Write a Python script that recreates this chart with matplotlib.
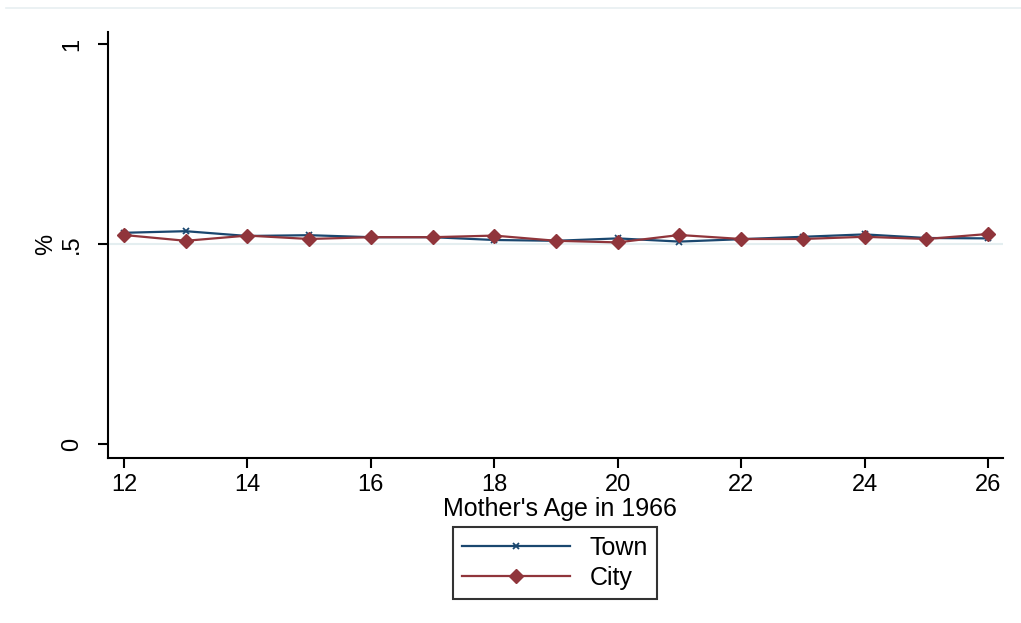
import matplotlib
matplotlib.use("Agg")
import matplotlib.pyplot as plt
from matplotlib.lines import Line2D

plt.rcParams['font.family'] = ['Liberation Sans', 'DejaVu Sans']

ages = [12, 13, 14, 15, 16, 17, 18, 19, 20, 21, 22, 23, 24, 25, 26]
town = [0.528, 0.532, 0.520, 0.522, 0.517, 0.517, 0.510, 0.508, 0.514,
        0.506, 0.512, 0.518, 0.524, 0.515, 0.514]
city = [0.5225, 0.508, 0.521, 0.5125, 0.517, 0.517, 0.521, 0.508, 0.504,
        0.5225, 0.5125, 0.5125, 0.518, 0.5125, 0.525]
xticks = [12, 14, 16, 18, 20, 22, 24, 26]
yticks = [0, 0.5, 1]
yticklabels = ["0", ".5", "1"]

navy = "#1a476f"
maroon = "#90353b"

W, H = 1021, 623
fig = plt.figure(figsize=(W / 100, H / 100), dpi=100)
fig.patch.set_facecolor("white")
left, right, top, bottom = 108, 1003, 32, 458.3
ax = fig.add_axes([left / W, 1 - bottom / H, (right - left) / W, (bottom - top) / H])

ax.axhline(0.5, color="#e4eef0", lw=1.5, zorder=1)
ax.plot(ages, town, color=navy, lw=1.6, marker="x", ms=5, mew=1.3,
        label="Town", zorder=3)
ax.plot(ages, city, color=maroon, lw=1.6, marker="D", ms=7.5,
        label="City", zorder=4)

ax.set_xlim(11.741, 26.243)
ax.set_ylim(-0.0358, 1.03)
ax.set_xticks(xticks)
ax.set_yticks(yticks)
ax.set_yticklabels(yticklabels, rotation=90, va="center")
for s in ["top", "right"]:
    ax.spines[s].set_visible(False)
for s in ["left", "bottom"]:
    ax.spines[s].set_linewidth(1.5)
ax.tick_params(axis="both", length=7, width=1.5, direction="out")
ax.tick_params(axis="x", labelsize=17, pad=4)
ax.tick_params(axis="y", labelsize=17, pad=11)

ax.set_xlabel("Mother's Age in 1966", fontsize=18)
ax.xaxis.set_label_coords((560 - left) / (right - left), (bottom - 497) / (bottom - top))
ax.set_ylabel("%", fontsize=17)
ax.yaxis.set_label_coords((46 - left) / (right - left), (bottom - 244) / (bottom - top))
ax.yaxis.label.set_va("center")

leg = fig.legend(loc="center", bbox_to_anchor=(555 / W, 1 - 563 / H),
                 fontsize=18, handlelength=4.3, handletextpad=0.8,
                 labelspacing=0.25, borderpad=0.35, fancybox=False,
                 frameon=True, edgecolor="black")
leg.get_frame().set_linewidth(1.5)

fig.add_artist(Line2D([6 / W, 1.0], [1 - 7.5 / H, 1 - 7.5 / H],
                      color="#e8eff1", lw=1.2, transform=fig.transFigure))

fig.savefig("out.png", dpi=100, facecolor="white")
